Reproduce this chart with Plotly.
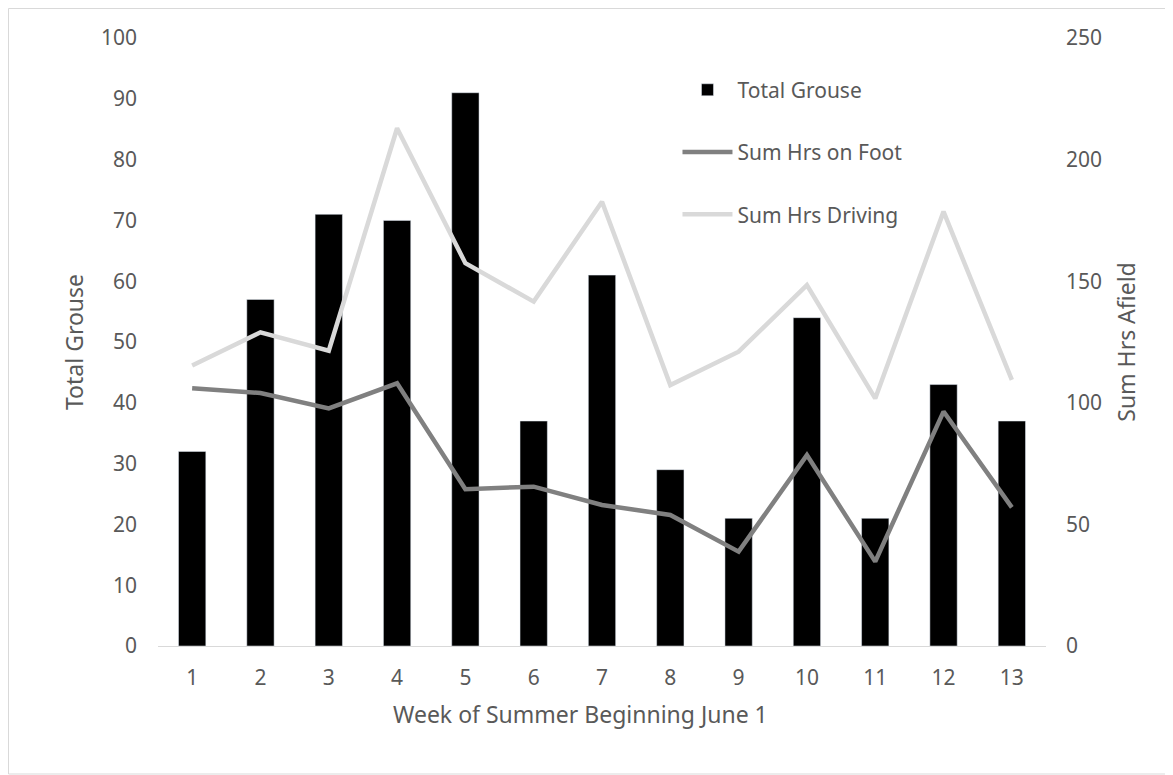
import plotly.graph_objects as go

weeks = list(range(1, 14))
total_grouse = [32, 57, 71, 70, 91, 37, 61, 29, 21, 54, 21, 43, 37]
hrs_foot = [106, 104, 97.7, 108, 64.5, 65.5, 58, 53.9, 38.8, 78.5, 34.7, 96.4, 57]
hrs_driving = [115.3, 129, 121.4, 212.9, 157.4, 141.6, 182.7, 107.3, 121, 148.4, 101.8, 178.6, 109.4]

FONT = "Noto Sans"
TXT = "#595959"

L, R, T, B = 150, 135, 30, 137
W, H = 1173, 775
PW, PH = W - L - R, H - T - B


def px(xf):
    return (xf - L) / PW


def py(yf):
    return (T + PH - yf) / PH


fig = go.Figure()
fig.add_trace(go.Bar(x=weeks, y=total_grouse, name="Total Grouse", marker=dict(color="black"),
                     width=0.4, legendgroup="a", yaxis="y"))
fig.add_trace(go.Scatter(x=weeks, y=hrs_foot, name="Sum Hrs on Foot", mode="lines",
                         line=dict(color="#808080", width=4.5), legendgroup="b", yaxis="y2"))
fig.add_trace(go.Scatter(x=weeks, y=hrs_driving, name="Sum Hrs Driving", mode="lines",
                         line=dict(color="#d9d9d9", width=4.5), legendgroup="c", yaxis="y2"))

fig.update_layout(
    width=W, height=H,
    margin=dict(l=L, r=R, t=T, b=B),
    paper_bgcolor="white", plot_bgcolor="white",
    font=dict(family=FONT, size=21, color=TXT),
    xaxis=dict(range=[0.5, 13.5], tickmode="array", tickvals=weeks, ticktext=[str(w) for w in weeks],
               showline=True, linecolor="#d9d9d9", linewidth=1, ticks="", showgrid=False,
               tickfont=dict(size=21, color=TXT), zeroline=False, ticklabelstandoff=13),
    yaxis=dict(range=[0, 100], dtick=10, showgrid=False, zeroline=False, showline=False,
               title=dict(text="Total Grouse", font=dict(size=23, color=TXT), standoff=10),
               tickfont=dict(size=21, color=TXT), ticklabelstandoff=20),
    yaxis2=dict(range=[0, 250], dtick=50, overlaying="y", side="right", showgrid=False,
                zeroline=False, showline=False,
                title=dict(text="Sum Hrs Afield", font=dict(size=23, color=TXT), standoff=17),
                tickfont=dict(size=21, color=TXT), ticklabelstandoff=19),
    legend=dict(x=0.585, y=0.948, xanchor="left", yanchor="top", traceorder="grouped",
                tracegroupgap=32, bgcolor="rgba(0,0,0,0)", font=dict(size=21, color=TXT),
                itemwidth=50),
    annotations=[dict(text="Week of Summer Beginning June 1", xref="paper", yref="paper",
                      x=px(580 - 8), y=py(714 - 8), xanchor="center", yanchor="middle",
                      showarrow=False, font=dict(size=23, color=TXT))],
    shapes=[dict(type="rect", xref="paper", yref="paper",
                 x0=px(0.5), x1=px(1162), y0=py(766), y1=py(0.5),
                 line=dict(color="#d9d9d9", width=1), fillcolor="rgba(0,0,0,0)", layer="below")],
)

fig.write_html("out.html")
